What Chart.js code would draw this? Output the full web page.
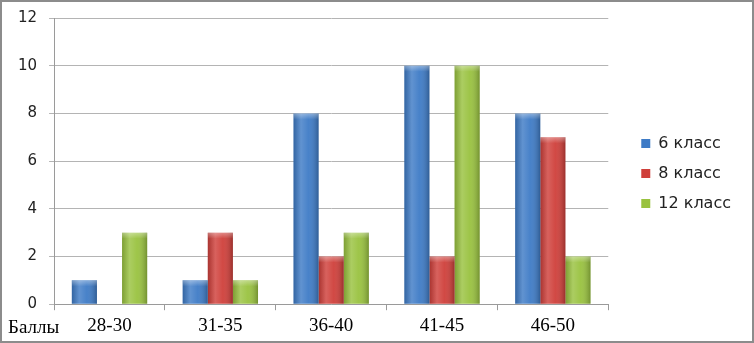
<!DOCTYPE html>
<html>
<head>
<meta charset="utf-8">
<script src="https://cdn.jsdelivr.net/npm/chart.js@4/dist/chart.umd.min.js"></script>
<style>
  html,body{margin:0;padding:0;background:#fff}
  #wrap{width:754px;height:343px;box-sizing:border-box;border:2px solid #8c8c8c;background:#fff}
  #wrap canvas{display:block}
</style>
</head>
<body>
<div id="wrap"><canvas id="chart" width="750" height="339"></canvas></div>
<script>
// ======= Data =======
const categories = ['28-30', '31-35', '36-40', '41-45', '46-50'];
const grade6  = [1, 1, 8, 10, 8];
const grade8  = [0, 3, 2, 2, 7];
const grade12 = [3, 1, 3, 10, 2];
const seriesNames = ['6 класс', '8 класс', '12 класс'];
const axisCaption = 'Баллы';

// colours
const colBlue = '#3e7bc6', colRed = '#cf3f3a', colGreen = '#99c23f';

// shading so the bars look a bit round like the office chart
const barShade = {
  id: 'barShade',
  afterDatasetsDraw(chart){
    const c = chart.ctx;
    chart.data.datasets.forEach((ds, i) => {
      chart.getDatasetMeta(i).data.forEach(bar => {
        const {x, y, base, width} = bar;
        if (Math.abs(base - y) < 1) return;
        const l = x - width/2, r = x + width/2;
        const g = c.createLinearGradient(l, 0, r, 0);
        g.addColorStop(0, 'rgba(0,0,0,0.18)');
        g.addColorStop(0.3, 'rgba(255,255,255,0.18)');
        g.addColorStop(0.6, 'rgba(255,255,255,0.05)');
        g.addColorStop(1, 'rgba(0,0,0,0.25)');
        c.save();
        c.fillStyle = g;
        c.fillRect(l, y, width, base - y);
        // light cap on top
        const cap = c.createLinearGradient(0, y, 0, y + 6);
        cap.addColorStop(0, 'rgba(255,255,255,0.35)');
        cap.addColorStop(1, 'rgba(255,255,255,0)');
        c.fillStyle = cap;
        c.fillRect(l, y, width, Math.min(6, base - y));
        c.restore();
      });
    });
  }
};

// push the legend right (away from the plot) and a little up
const legendShift = {
  id: 'legendShift',
  afterLayout(chart){
    const lg = chart.legend;
    if (!lg) return;
    lg.left += 19; lg.right += 19;
    lg.top -= 6; lg.bottom -= 6;
  }
};

// "Баллы" caption left of first x label
const caption = {
  id: 'caption',
  afterDraw(chart){
    const c = chart.ctx, xs = chart.scales.x;
    c.save();
    c.font = '19px "Liberation Serif", "Times New Roman", serif';
    c.fillStyle = '#000';
    c.textAlign = 'left';
    c.textBaseline = 'middle';
    c.fillText(axisCaption, 6, xs.bottom - 13);
    c.restore();
  }
};

const ctx = document.getElementById('chart').getContext('2d');
new Chart(ctx, {
  type: 'bar',
  data: {
    labels: categories,
    datasets: [
      {label: seriesNames[0], data: grade6,  backgroundColor: colBlue},
      {label: seriesNames[1], data: grade8,  backgroundColor: colRed},
      {label: seriesNames[2], data: grade12, backgroundColor: colGreen}
    ]
  },
  options: {
    responsive: false,
    animation: false,
    layout: {padding: {left: 4, right: 30, top: 16, bottom: 0}},
    datasets: {bar: {barPercentage: 1, categoryPercentage: 0.68}},
    plugins: {
      legend: {
        position: 'right',
        labels: {
          boxWidth: 9, boxHeight: 9, padding: 14,
          color: '#222',
          font: {family: '"DejaVu Sans", Verdana, sans-serif', size: 16}
        }
      },
      tooltip: {enabled: false}
    },
    scales: {
      x: {
        grid: {drawOnChartArea: false, color: '#9a9a9a', tickLength: 6},
        border: {color: '#9a9a9a'},
        ticks: {color: '#000', padding: 4, font: {family: '"Liberation Serif", "Times New Roman", serif', size: 19}}
      },
      y: {
        min: 0, max: 12,
        afterFit(s){ s.paddingTop = 0; },
        ticks: {stepSize: 2, color: '#222', padding: 12, font: {family: '"DejaVu Sans", Verdana, sans-serif', size: 15, lineHeight: 1}},
        grid: {color: '#b4b4b4', tickLength: 5},
        border: {color: '#9a9a9a'}
      }
    }
  },
  plugins: [barShade, legendShift, caption]
});
</script>
</body>
</html>
